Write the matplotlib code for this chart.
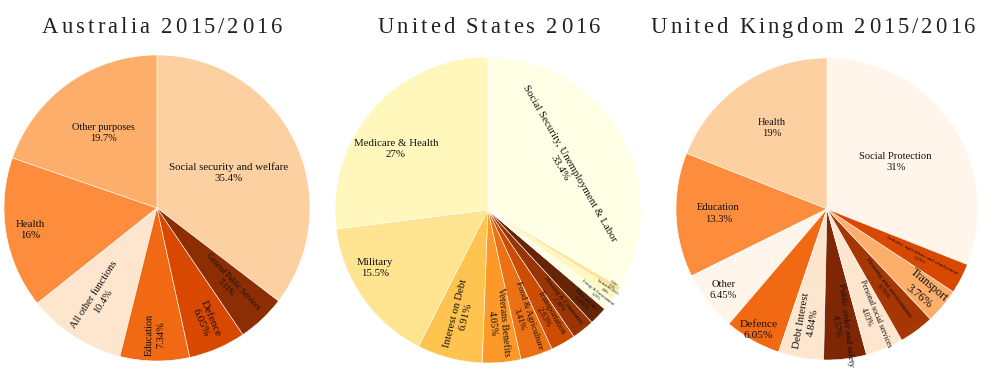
import matplotlib.pyplot as plt
from matplotlib.font_manager import FontProperties
import numpy as np

# Australia 2015/2016
aus_labels = ['Social security and welfare', 'Other purposes', 'Health', 'All other functions',
              'Education', 'Defence', 'General Public Services']
aus_values = [35.4, 19.7, 16, 10.4, 7.34, 6.05, 5.11]

# United States 2016
us_labels = ['Social Security, Unemployment & Labor', 'Medicare & Health', 'Military', 'Interest on Debt',
             'Veterans Benefits', 'Food & Agriculture', 'Transportation', 'Housing & Community',
             'Education', 'Energy & Environment', 'International Affairs', 'Science']
us_values = [33.4, 27, 15.5, 6.91, 4.05, 3.41, 2.63, 2.38, 1.93, 1.29, 0.98, 0.52]

# United Kingdom 2015/2016
uk_labels = ['Social Protection', 'Health', 'Education', 'Other', 'Defence', 'Debt Interest',
             'Public order and safety', 'Personal social services', 'Housing and environment',
             'Transport', 'Industry, agriculture and employment']
uk_values = [31, 19, 13.3, 6.45, 6.05, 4.84, 4.57, 4.03, 3.76, 3.76, 3.23]

titles = ['Australia 2015/2016', 'United States 2016', 'United Kingdom 2015/2016']

# colours and label styles (orientation, radius fraction, font size, angle tweak)
aus_colors = ['#fdd0a2', '#fdae6b', '#fd8d3c', '#fee6ce', '#f16913', '#d94801', '#8c2d04']
ylorbr = ['#ffffe5', '#fff7bc', '#fee391', '#fec44f', '#fe9929', '#ec7014', '#cc4c02', '#993404', '#662506']
us_colors = [ylorbr[i % len(ylorbr)] for i in range(len(us_values))]
uk_colors = ['#fff5eb', '#fdd0a2', '#fd8d3c', '#fff5eb', '#f16913', '#fee6ce', '#7f2704', '#fee6ce',
             '#a63603', '#fdae6b', '#d94801']

aus_styles = [('h', 0.52, 7.8, 0), ('h', 0.6, 7.5, 0), ('h', 0.84, 7.8, 0), ('r', 0.7, 7.5, 0),
              ('r', 0.83, 7.5, 0), ('r', 0.8, 8.2, 0), ('r', 0.69, 5.6, 0)]
us_styles = [('t', 0.58, 7.8, 0), ('h', 0.72, 7.8, 8), ('h', 0.83, 7.8, -8), ('r', 0.71, 7.8, 0),
             ('r', 0.74, 7, 0), ('r', 0.74, 6.5, 0), ('r', 0.79, 6, 0), ('r', 0.77, 4.5, 0),
             ('r', 0.86, 5, 0), ('r', 0.9, 3, 0), ('r', 0.93, 2.2, 0), ('r', 0.95, 2, 0)]
uk_styles = [('h', 0.55, 7.6, 0), ('h', 0.65, 7.6, 0), ('h', 0.72, 7.6, 0), ('h', 0.87, 7.6, 0),
             ('h', 0.92, 8.2, 0), ('r', 0.76, 7.8, 0), ('r', 0.78, 6.5, 0), ('r', 0.76, 5.5, 0),
             ('r', 0.66, 5, 0), ('r', 0.84, 8.5, 0), ('r', 0.70, 3.8, 0)]

W, H = 1000, 385
SERIF = 'Liberation Serif'

fig = plt.figure(figsize=(W / 100, H / 100), dpi=100)
fig.patch.set_facecolor('white')


def add_pie(cx, cy, r, values, labels, colors, styles):
    ax = fig.add_axes([(cx - r) / W, 1 - (cy + r) / H, 2 * r / W, 2 * r / H])
    start = 90 - 360 * values[0] / sum(values)
    wedges, _ = ax.pie(values, colors=colors, startangle=start, counterclock=True, radius=1,
                       wedgeprops=dict(edgecolor='white', linewidth=0.4))
    ax.set_xlim(-1, 1)
    ax.set_ylim(-1, 1)
    ax.axis('off')
    for w, lab, v, (orient, rf, fs, dth) in zip(wedges, labels, values, styles):
        mid = (w.theta1 + w.theta2) / 2
        pos = np.radians(mid + dth)
        x, y = rf * np.cos(pos), rf * np.sin(pos)
        if orient == 'h':
            rot = 0
        elif orient == 'r':
            rot = mid
        else:
            rot = mid - 90
        rot = (rot + 180) % 360 - 180
        if rot > 90:
            rot -= 180
        elif rot < -90:
            rot += 180
        ax.text(x, y, f'{lab}\n{v:.3g}%', rotation=rot, rotation_mode='anchor', ha='center',
                va='center', fontsize=fs, family=SERIF, linespacing=1.3, multialignment='center',
                color='#111111')


def spaced_title(cx, baseline, s, size, spacing):
    # letter-spaced title, one glyph at a time
    renderer = fig.canvas.get_renderer()
    prop = FontProperties(family=SERIF, size=size)

    def width(t):
        return renderer.get_text_width_height_descent(t, prop, ismath=False)[0]

    ref = width('H')
    advs = [width(s[:i] + 'H') - ref for i in range(len(s))]
    total = width(s) + spacing * (len(s) - 1)
    x0 = cx - total / 2
    for i, ch in enumerate(s):
        if ch == ' ':
            continue
        fig.text((x0 + advs[i] + i * spacing) / W, 1 - baseline / H, ch, fontproperties=prop,
                 ha='left', va='baseline', color='#222222')


add_pie(157, 208, 153, aus_values, aus_labels, aus_colors, aus_styles)
add_pie(488, 210, 153, us_values, us_labels, us_colors, us_styles)
add_pie(827, 209, 151, uk_values, uk_labels, uk_colors, uk_styles)

for cx, t in zip([162, 489, 813], titles):
    spaced_title(cx, 33, t, 16.3, 3)

fig.savefig('out.png', dpi=100, facecolor='white')
